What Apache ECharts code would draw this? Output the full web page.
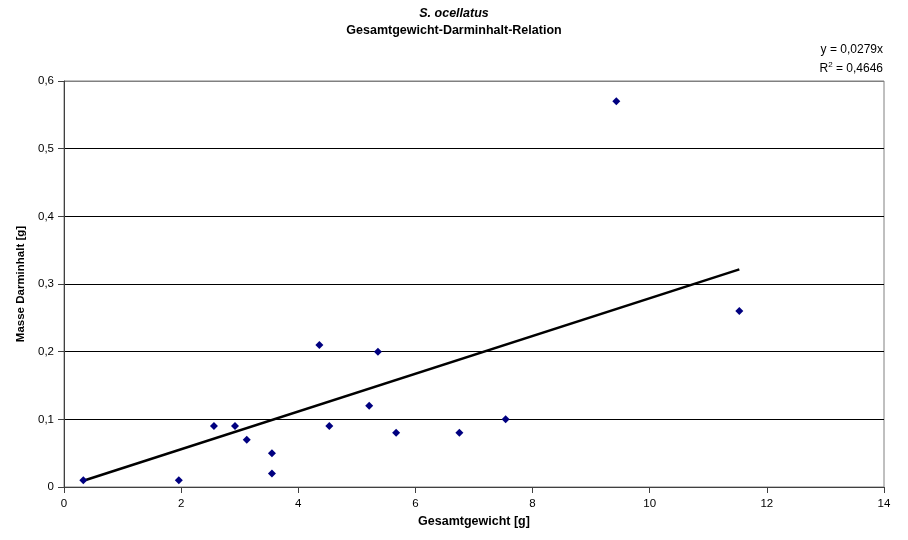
<!DOCTYPE html>
<html>
<head>
<meta charset="utf-8">
<script src="https://cdn.jsdelivr.net/npm/echarts@6/dist/echarts.min.js"></script>
<style>
  html, body { margin: 0; padding: 0; background: #fff; }
  #chart { width: 908px; height: 540px; }
</style>
</head>
<body>
<div id="chart"></div>
<script>
// Gesamtgewicht [g] vs. Masse Darminhalt [g]
const gesamtgewicht = [0.33, 1.96, 2.56, 2.92, 3.12, 3.55, 3.55, 4.36, 4.53, 5.21, 5.36, 5.67, 6.75, 7.54, 9.43, 11.53];
const darminhalt    = [0.01, 0.01, 0.09, 0.09, 0.07, 0.05, 0.02, 0.21, 0.09, 0.12, 0.20, 0.08, 0.08, 0.10, 0.57, 0.26];

// Linear trend through the origin: y = 0,0279x
const trendSlope = 0.0279;
const trendR2 = 0.4646;

const xTicks = [0, 2, 4, 6, 8, 10, 12, 14];
const yTicks = [0, 0.1, 0.2, 0.3, 0.4, 0.5, 0.6];

const points = gesamtgewicht.map((x, i) => [x, darminhalt[i]]);
const xMinData = Math.min(...gesamtgewicht);
const xMaxData = Math.max(...gesamtgewicht);
const trend = [[xMinData, trendSlope * xMinData], [xMaxData, trendSlope * xMaxData]];

const comma = v => String(+v.toFixed(4)).replace('.', ',');
const FONT = 'Liberation Sans, Arial, sans-serif';

// gridlines are black, the one on the top edge takes the grey frame colour
const gridColors = yTicks.map((t, i) => (i === yTicks.length - 1 ? '#808080' : '#000000'));

const chart = echarts.init(document.getElementById('chart'), null, { renderer: 'canvas' });
chart.setOption({
  animation: false,
  backgroundColor: '#ffffff',
  textStyle: { fontFamily: FONT },
  title: [
    {
      text: 'S. ocellatus',
      left: 'center', top: 2,
      textStyle: { fontFamily: FONT, fontSize: 12.5, fontWeight: 'bold', fontStyle: 'italic', color: '#000' }
    },
    {
      text: 'Gesamtgewicht-Darminhalt-Relation',
      left: 'center', top: 19,
      textStyle: { fontFamily: FONT, fontSize: 12.5, fontWeight: 'bold', color: '#000' }
    },
    {
      text: 'y = ' + comma(trendSlope) + 'x',
      right: 20, top: 39,
      textStyle: { fontFamily: FONT, fontSize: 12, fontWeight: 'normal', color: '#000' }
    },
    {
      text: '{r|R}{s|2}{r| = ' + comma(trendR2) + '}',
      right: 20, top: 56,
      textStyle: {
        fontFamily: FONT, fontSize: 12, fontWeight: 'normal', color: '#000',
        rich: {
          r: { fontFamily: FONT, fontSize: 12, color: '#000', verticalAlign: 'bottom' },
          s: { fontFamily: FONT, fontSize: 8, color: '#000', verticalAlign: 'top', padding: [0, 0, 6, 0] }
        }
      }
    }
  ],
  grid: {
    left: 64, right: 24, top: 81, bottom: 53,
    show: true, borderColor: '#808080', borderWidth: 1, backgroundColor: '#ffffff'
  },
  xAxis: {
    type: 'value',
    min: xTicks[0], max: xTicks[xTicks.length - 1], interval: xTicks[1] - xTicks[0],
    name: 'Gesamtgewicht [g]',
    nameLocation: 'middle', nameGap: 20,
    nameTextStyle: { fontFamily: FONT, fontSize: 12.5, fontWeight: 'bold', color: '#000' },
    axisLine: { show: true, lineStyle: { color: '#404040', width: 1 } },
    axisTick: { show: true, inside: false, length: 6, lineStyle: { color: '#404040' } },
    axisLabel: { fontFamily: FONT, fontSize: 11.5, color: '#000', margin: 11, formatter: v => comma(v) },
    splitLine: { show: false }
  },
  yAxis: {
    type: 'value',
    min: yTicks[0], max: yTicks[yTicks.length - 1], interval: yTicks[1] - yTicks[0],
    name: 'Masse Darminhalt [g]',
    nameLocation: 'middle', nameGap: 34, nameRotate: 90,
    nameTextStyle: { fontFamily: FONT, fontSize: 11.5, fontWeight: 'bold', color: '#000' },
    axisLine: { show: true, lineStyle: { color: '#404040', width: 1 } },
    axisTick: { show: true, inside: false, length: 6, lineStyle: { color: '#404040' } },
    axisLabel: { fontFamily: FONT, fontSize: 11.5, color: '#000', margin: 10, formatter: v => comma(v) },
    splitLine: { show: true, lineStyle: { color: gridColors, width: 1 } }
  },
  series: [
    {
      type: 'line',
      data: trend,
      symbol: 'none',
      lineStyle: { color: '#000000', width: 2.5 },
      z: 2,
      silent: true
    },
    {
      type: 'scatter',
      data: points,
      symbol: 'diamond',
      symbolSize: 8,
      itemStyle: { color: '#000080', opacity: 1 },
      z: 3
    }
  ]
});
</script>
</body>
</html>
